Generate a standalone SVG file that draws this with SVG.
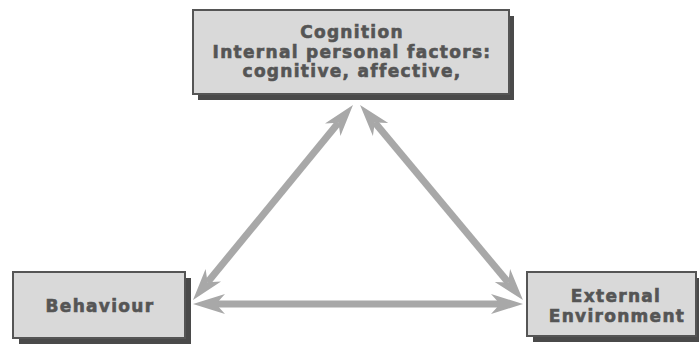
<svg xmlns="http://www.w3.org/2000/svg" width="699" height="349" viewBox="0 0 699 349">
<style>
.shadow{fill:#4a4a4a}
.face{fill:#d9d9d9;stroke:#555;stroke-width:2}
.lbl{font-family:"DejaVu Sans",sans-serif;font-weight:bold;font-size:17px;letter-spacing:1.3px;fill:#555;stroke:#555;stroke-width:0.6;text-anchor:middle}
.conn{stroke:#a8a8a8;stroke-width:7;fill:none;marker-start:url(#ah);marker-end:url(#ah)}
</style>
<defs>
<marker id="ah" markerUnits="userSpaceOnUse" markerWidth="34" markerHeight="24" viewBox="0 -12 34 24" refX="9" refY="0" orient="auto-start-reverse">
<path d="M32,0 L0,-10 L9,0 L0,10 Z" fill="#a8a8a8"/>
</marker>
</defs>
<rect width="699" height="349" fill="#fff"/>
<g id="connectors">
<line class="conn" x1="338.4" y1="122.8" x2="207.6" y2="282.2"/>
<line class="conn" x1="374.8" y1="122.6" x2="508.2" y2="282.4"/>
<line class="conn" x1="216" y1="304" x2="500" y2="304"/>
</g>
<g id="cognition">
<rect class="shadow" x="198" y="16" width="316" height="84"/>
<rect class="face" x="193" y="10" width="316" height="84"/>
<text class="lbl" x="352" y="38">Cognition</text>
<text class="lbl" x="352" y="58">Internal personal factors:</text>
<text class="lbl" x="352" y="77">cognitive, affective,</text>
</g>
<g id="behaviour">
<rect class="shadow" x="19" y="278" width="172" height="66"/>
<rect class="face" x="13" y="272" width="172" height="66"/>
<text class="lbl" x="100" y="312">Behaviour</text>
</g>
<g id="environment">
<rect class="shadow" x="533" y="278" width="172" height="64"/>
<rect class="face" x="527" y="272" width="169" height="64"/>
<text class="lbl" x="616" y="302">External</text>
<text class="lbl" x="617" y="322">Environment</text>
</g>
</svg>
